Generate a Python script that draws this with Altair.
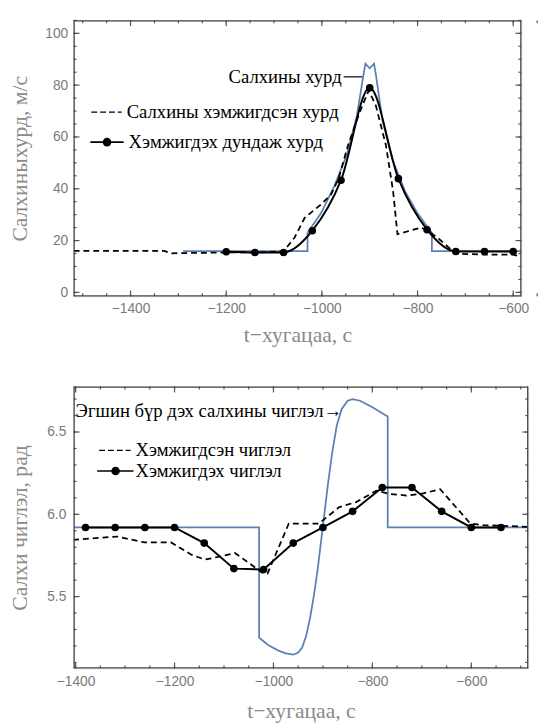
import altair as alt
import pandas as pd

# ---------------- top panel: wind speed ----------------
speed_true_t = [-1290, -1030, -1030, -1002, -974, -948, -927, -913, -909, -900, -891, -887,
                -873, -852, -826, -800, -770, -770, -583]
speed_true_v = [15.9, 15.9, 23.0, 30.5, 41.0, 53.0, 68.0, 84.0, 88.3, 86.5, 88.3, 84.0,
                66.0, 51.0, 39.0, 30.5, 23.0, 15.9, 15.9]

speed_meas_t = [-1519, -1330, -1315, -1200, -1140, -1080, -1057, -1036, -1002, -981, -965,
                -945, -920, -902, -887, -866, -851, -842, -792, -780, -755, -720, -660,
                -600, -583]
speed_meas_v = [16.0, 16.0, 15.1, 15.4, 15.4, 15.8, 21.2, 28.8, 33.9, 37.7, 44.0,
                57.0, 70.0, 78.0, 72.0, 56.7, 38.9, 22.5, 25.0, 24.0, 20.6, 14.9, 14.6,
                14.6, 13.8]

speed_mean_t = [-1200, -1140, -1080, -1020, -960, -900, -840, -780, -720, -660, -600]
speed_mean_v = [15.7, 15.4, 15.4, 23.8, 43.3, 79.0, 43.9, 24.2, 15.8, 15.8, 15.8]

top_labels = ["Салхины хурд", "Салхины хэмжигдсэн хурд", "Хэмжигдэх дундаж хурд"]
top_xticks = [-1400, -1200, -1000, -800, -600]
top_xminor = list(range(-1500, -549, 50))
top_yticks = [0, 20, 40, 60, 80, 100]
top_yminor = list(range(0, 106, 5))

# ---------------- bottom panel: wind direction ----------------
dir_true_t = [-1404, -1029, -1029, -1010, -990, -975, -960, -950, -942, -934, -926, -918,
              -910, -900, -890, -881, -872, -862, -850, -840, -825, -800, -769, -769, -485]
dir_true_v = [5.92, 5.92, 5.25, 5.205, 5.172, 5.155, 5.147, 5.16, 5.19, 5.26, 5.37, 5.51,
              5.68, 5.93, 6.18, 6.38, 6.54, 6.64, 6.69, 6.70, 6.69, 6.65, 6.595, 5.92, 5.92]

dir_meas_t = [-1405, -1316, -1261, -1207, -1166, -1139, -1112, -1078, -1050, -1023, -1012,
              -969, -908, -867, -833, -792, -765, -731, -697, -663, -643, -602, -575, -485]
dir_meas_v = [5.845, 5.865, 5.829, 5.829, 5.755, 5.725, 5.741, 5.765, 5.705, 5.645, 5.64,
              5.944, 5.944, 6.044, 6.074, 6.143, 6.124, 6.114, 6.127, 6.153, 6.084, 5.944,
              5.934, 5.924]

dir_mean_t = [-1380, -1320, -1260, -1200, -1140, -1080, -1020, -960, -900, -840, -780,
              -720, -660, -600, -540]
dir_mean_v = [5.92, 5.92, 5.92, 5.92, 5.825, 5.67, 5.665, 5.825, 5.92, 6.018, 6.163,
              6.163, 6.018, 5.92, 5.92]

bottom_labels = ["Эгшин бүр дэх салхины чиглэл→", "Хэмжигдсэн чиглэл", "Хэмжигдэх чиглэл"]
bot_xticks = [-1400, -1200, -1000, -800, -600]
bot_xminor = list(range(-1400, -499, 50))
bot_yticks = [5.5, 6.0, 6.5]
bot_yminor = [round(5.1 + 0.1 * i, 1) for i in range(17)]

x_title = "t−хугацаа, с"
top_y_title = "Салхиныхурд, м/с"
bot_y_title = "Салхи чиглэл, рад"

# ---------------- styles ----------------
FRAME = "#444444"
TICK = "#555555"
LABEL = "#7a7a7a"
TITLE = "#8a8a8a"
BLUE = "#5e81b5"
SERIF = "Liberation Serif"
SANS = "Liberation Sans"
MAJ, MIN = 6, 3


def label_axis(orient, vals, title, fmt, tp, lp):
    return alt.Axis(orient=orient, values=vals, ticks=False, domain=False, grid=False,
                    labelFlush=False, labelFont=SANS, labelFontSize=14, labelColor=LABEL,
                    labelPadding=lp, format=fmt, title=title, titleFont=SERIF,
                    titleFontSize=22, titleColor=TITLE, titleFontWeight="normal",
                    titlePadding=tp)


def frame_ticks(xs, ys, W, H, xmaj, xmin, ymaj, ymin):
    out = []
    for vals, L in ((xmaj, MAJ), (xmin, MIN)):
        d = pd.DataFrame({"t": vals})
        for ypos in (H - L / 2, L / 2):
            out.append(alt.Chart(d).mark_tick(orient="vertical", size=L, thickness=1.2,
                                              color=TICK, opacity=1).encode(
                x=alt.X("t:Q", scale=xs, axis=None), y=alt.value(ypos)))
    for vals, L in ((ymaj, MAJ), (ymin, MIN)):
        d = pd.DataFrame({"v": vals})
        for xpos in (L / 2, W - L / 2):
            out.append(alt.Chart(d).mark_tick(orient="horizontal", size=L, thickness=1.2,
                                              color=TICK, opacity=1).encode(
                y=alt.Y("v:Q", scale=ys, axis=None), x=alt.value(xpos)))
    return out


def frame_box(W, H):
    # plot frame: four rules on the plot-area edges
    d = pd.DataFrame({"k": [0]})
    base = alt.Chart(d).mark_rule(color=FRAME, strokeWidth=1.3, opacity=1)
    return [
        base.encode(x=alt.value(0), x2=alt.value(W), y=alt.value(0.5)),
        base.encode(x=alt.value(0), x2=alt.value(W), y=alt.value(H - 0.5)),
        base.encode(y=alt.value(0), y2=alt.value(H), x=alt.value(0.5)),
        base.encode(y=alt.value(0), y2=alt.value(H), x=alt.value(W - 0.5)),
    ]


def txt(label, x, y, align="left", size=19):
    return alt.Chart(pd.DataFrame({"label": [label]})).mark_text(
        align=align, baseline="middle", font=SERIF, fontSize=size, color="black"
    ).encode(x=alt.value(x), y=alt.value(y), text="label:N")


def hrule(x1, x2, y, dash=None, width=1.6):
    kw = dict(color="black", strokeWidth=width)
    if dash:
        kw["strokeDash"] = dash
    return alt.Chart(pd.DataFrame({"k": [0]})).mark_rule(**kw).encode(
        x=alt.value(x1), x2=alt.value(x2), y=alt.value(y))


def dot(x, y, size=75):
    return alt.Chart(pd.DataFrame({"k": [0]})).mark_point(
        filled=True, color="black", opacity=1, size=size).encode(x=alt.value(x), y=alt.value(y))


def panel(true_t, true_v, meas_t, meas_v, mean_t, mean_v, xdom, ydom, mean_interp,
          W, H, xmaj, xmin, ymaj, ymin, ytitle, yfmt, ytp, ylp, xtp):
    xs = alt.Scale(domain=xdom, nice=False, zero=False)
    ys = alt.Scale(domain=ydom, nice=False, zero=False)
    d_true = pd.DataFrame({"t": true_t, "v": true_v, "i": list(range(len(true_t)))})
    d_meas = pd.DataFrame({"t": meas_t, "v": meas_v})
    d_mean = pd.DataFrame({"t": mean_t, "v": mean_v})
    X = alt.X("t:Q", scale=xs, axis=None)
    Y = alt.Y("v:Q", scale=ys, axis=None)
    blue = alt.Chart(d_true).mark_line(color=BLUE, strokeWidth=1.8, clip=True).encode(
        x=X, y=Y, order="i:Q")
    dash = alt.Chart(d_meas).mark_line(color="black", strokeWidth=1.8,
                                       strokeDash=[6, 4], clip=True).encode(x=X, y=Y)
    mean = alt.Chart(d_mean).mark_line(color="black", strokeWidth=2,
                                       interpolate=mean_interp, clip=True).encode(x=X, y=Y)
    pts = alt.Chart(d_mean).mark_point(filled=True, color="black", opacity=1,
                                       size=60, clip=True).encode(
        x=alt.X("t:Q", scale=xs, axis=label_axis("bottom", xmaj, x_title, "d", xtp, 6)),
        y=alt.Y("v:Q", scale=ys, axis=label_axis("left", ymaj, ytitle, yfmt, ytp, ylp)))
    ticks = frame_ticks(xs, ys, W, H, xmaj, xmin, ymaj, ymin)
    return [blue, dash, mean, pts] + ticks + frame_box(W, H)


# ---- top chart ----
TW, TH = 456, 281
ann_t = [
    txt(top_labels[0], 273, 57.5, align="right"),
    hrule(275, 294, 57.5, width=1.2),
    hrule(18, 49, 93.5, dash=[6, 3], width=1.4),
    txt(top_labels[1], 54, 93.5),
    hrule(17, 51, 124, width=1.6),
    dot(34, 124),
    txt(top_labels[2], 56, 124),
]
top = alt.layer(
    *panel(speed_true_t, speed_true_v, speed_meas_t, speed_meas_v, speed_mean_t,
           speed_mean_v, [-1519, -583], [-1.5, 105], "monotone", TW, TH,
           top_xticks, top_xminor, top_yticks, top_yminor, top_y_title, "d", 14, 6, 9),
    *ann_t,
).resolve_axis(x="independent", y="independent").properties(width=TW, height=TH)

# ---- bottom chart ----
BW, BH = 463, 287
ann_b = [
    txt(bottom_labels[0], 2, 25),
    hrule(26, 58, 65, dash=[6, 3], width=1.4),
    txt(bottom_labels[1], 63, 65),
    hrule(24, 61, 86, width=1.6),
    dot(42.7, 86),
    txt(bottom_labels[2], 63, 86),
]
bottom = alt.layer(
    *panel(dir_true_t, dir_true_v, dir_meas_t, dir_meas_v, dir_mean_t, dir_mean_v,
           [-1404, -485], [5.064, 6.776], "linear", BW, BH,
           bot_xticks, bot_xminor, bot_yticks, bot_yminor, bot_y_title, ".1f", 16, 8, 13),
    *ann_b,
).resolve_axis(x="independent", y="independent").properties(width=BW, height=BH)

chart = alt.concat(top, bottom, columns=1, spacing=39, align="none").properties(
    padding={"left": 8, "top": 12, "right": 0, "bottom": 0}
).configure_view(stroke=FRAME, strokeWidth=1).configure(background="white")

chart.save("out.html", embed_options={"renderer": "svg", "actions": False})
